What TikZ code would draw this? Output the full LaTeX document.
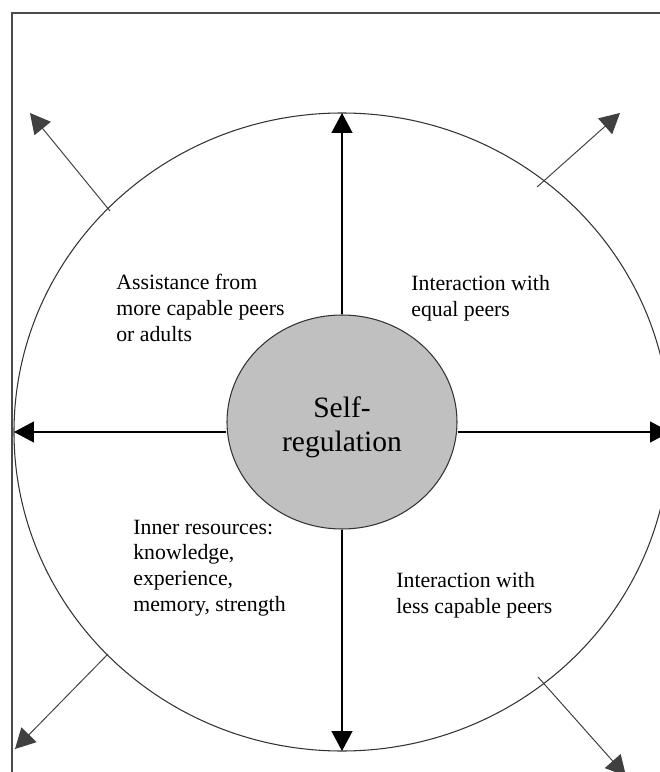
\documentclass[tikz,border=0pt]{standalone}
\usepackage{fontspec}
\setmainfont{Liberation Serif}
\usetikzlibrary{arrows.meta,shapes.geometric}
\definecolor{selfgray}{RGB}{192,192,192}

\begin{document}
\begin{tikzpicture}[
      arr/.style={-{Triangle[length=4mm,width=4.2mm]},line width=0.7pt},
      diag/.style={arr,draw=black!75,line width=0.55pt},
      lbl/.style={anchor=north west,inner sep=0pt,align=left,font=\fontsize{12.4}{14.6}\selectfont}]
      \useasboundingbox (-6.84,-6.8) rectangle (6.34,8.64);
      \draw[black!70,line width=0.75pt] (7,8.38) -- (-6.6,8.38) -- (-6.6,-7);
      \draw[black!80,line width=0.6pt] (0,0) ellipse [x radius=6.56,y radius=6.38];
      \node[ellipse,draw=black!80,line width=0.6pt,fill=selfgray,minimum width=4.6cm,minimum height=4.28cm,inner sep=0pt,
            label={[yshift=-0.11cm,align=center,font=\fontsize{16.8}{19.4}\selectfont]center:Self-\\regulation}] (self) at (0,0.2) {};
      \coordinate (o) at (0,0);
      \coordinate (top) at (0,6.38);
      \coordinate (bottom) at (0,-6.38);
      \coordinate (left) at (-6.56,0);
      \coordinate (right) at (6.56,0);
      \draw[arr] (self) -- (top);
      \draw[arr] (self) -- (bottom);
      \draw[arr] (self.west |- o) -- (left);
      \draw[arr] (self.east |- o) -- (right);
      \coordinate (tl) at (-4.64,4.42);
      \coordinate (tr) at (3.9,4.9);
      \coordinate (bl) at (-4.68,-4.44);
      \coordinate (br) at (3.92,-4.9);
      \coordinate (tlend) at (-6.24,6.38);
      \coordinate (trend) at (5.56,6.38);
      \coordinate (blend) at (-6.54,-6.34);
      \coordinate (brend) at (5.68,-6.88);
      \draw[diag] (tl) -- (tlend);
      \draw[diag] (tr) -- (trend);
      \draw[diag] (bl) -- (blend);
      \draw[diag] (br) -- (brend);
      \node[lbl] (assist) at (-4.52,3.16) {Assistance from\\more capable peers\\or adults};
      \node[lbl] (equal) at (1.38,3.14) {Interaction with\\equal peers};
      \node[lbl] (inner) at (-4.18,-1.75) {Inner resources:\\knowledge,\\experience,\\memory, strength};
      \node[lbl] (less) at (1.08,-2.8) {Interaction with\\less capable peers};
\end{tikzpicture}
\end{document}
